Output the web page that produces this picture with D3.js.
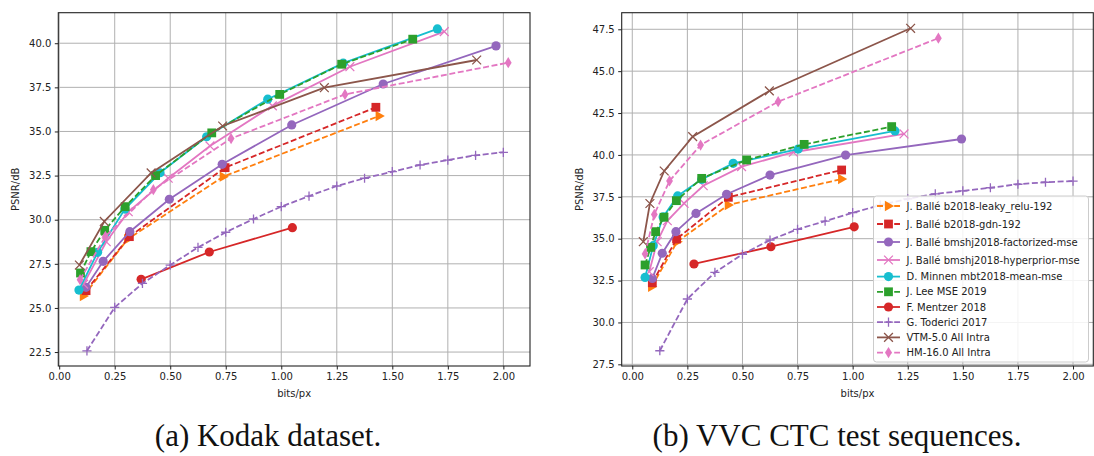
<!DOCTYPE html>
<html>
<head>
<meta charset="utf-8">
<script src="https://cdn.jsdelivr.net/npm/d3@7"></script>
<style>
  body { margin: 0; background: #fff; }
  svg text { font-family: "DejaVu Sans", sans-serif; }
</style>
</head>
<body>
<svg id="fig" width="1094" height="456"></svg>
<script>
// ---- Series names (legend order) ----
const seriesLabels = [
  "J. Ballé b2018-leaky_relu-192",
  "J. Ballé b2018-gdn-192",
  "J. Ballé bmshj2018-factorized-mse",
  "J. Ballé bmshj2018-hyperprior-mse",
  "D. Minnen mbt2018-mean-mse",
  "J. Lee MSE 2019",
  "F. Mentzer 2018",
  "G. Toderici 2017",
  "VTM-5.0 All Intra",
  "HM-16.0 All Intra"
];

// ---- Kodak dataset: [bits/px, PSNR dB] ----
const kodakLeakyRelu = [[0.109, 25.67], [0.308, 28.89], [0.739, 32.44], [1.441, 35.88]];
const kodakGdn = [[0.121, 25.98], [0.316, 29.04], [0.747, 32.95], [1.426, 36.37]];
const kodakFactorized = [[0.121, 26.17], [0.198, 27.64], [0.318, 29.32], [0.496, 31.16], [0.734, 33.14], [1.047, 35.37], [1.459, 37.69], [1.967, 39.85]];
const kodakHyperprior = [[0.11, 26.35], [0.212, 28.75], [0.311, 30.45], [0.491, 32.35], [0.679, 34.18], [0.96, 36.45], [1.309, 38.67], [1.734, 40.66]];
const kodakMinnen = [[0.089, 26.01], [0.173, 28.15], [0.296, 30.6], [0.454, 32.66], [0.664, 34.7], [0.939, 36.83], [1.279, 38.87], [1.703, 40.81]];
const kodakLee = [[0.096, 26.98], [0.143, 28.19], [0.205, 29.4], [0.297, 30.74], [0.434, 32.5], [0.687, 34.92], [0.993, 37.1], [1.272, 38.81], [1.592, 40.23]];
const kodakMentzer = [[0.369, 26.62], [0.676, 28.17], [1.05, 29.55]];
const kodakToderici = [[0.125, 22.57], [0.25, 25.03], [0.375, 26.39], [0.5, 27.43], [0.625, 28.43], [0.75, 29.29], [0.875, 30.04], [1.0, 30.74], [1.125, 31.34], [1.25, 31.91], [1.375, 32.35], [1.5, 32.72], [1.625, 33.1], [1.75, 33.38], [1.875, 33.65], [2.0, 33.82]];
const kodakVtm = [[0.091, 27.43], [0.203, 29.9], [0.414, 32.65], [0.736, 35.31], [1.194, 37.48], [1.88, 39.05]];
const kodakHm = [[0.094, 26.6], [0.208, 29.05], [0.424, 31.7], [0.774, 34.6], [1.287, 37.1], [2.022, 38.9]];

// ---- VVC CTC test sequences: [bits/px, PSNR dB] ----
const vvcLeakyRelu = [[0.088, 32.13], [0.204, 34.82], [0.436, 37.01], [0.95, 38.56]];
const vvcGdn = [[0.091, 32.37], [0.201, 34.98], [0.436, 37.47], [0.95, 39.1]];
const vvcFactorized = [[0.091, 32.63], [0.136, 34.13], [0.198, 35.42], [0.289, 36.51], [0.428, 37.65], [0.625, 38.8], [0.968, 39.99], [1.494, 40.95]];
const vvcHyperprior = [[0.077, 33.03], [0.113, 34.82], [0.159, 36.07], [0.235, 37.11], [0.322, 38.16], [0.496, 39.3], [0.731, 40.16], [1.233, 41.25]];
const vvcMinnen = [[0.058, 32.69], [0.095, 34.58], [0.14, 36.3], [0.206, 37.55], [0.315, 38.54], [0.458, 39.5], [0.753, 40.35], [1.192, 41.43]];
const vvcLee = [[0.058, 33.43], [0.083, 34.48], [0.106, 35.42], [0.144, 36.28], [0.2, 37.27], [0.315, 38.6], [0.519, 39.7], [0.78, 40.63], [1.177, 41.69]];
const vvcMentzer = [[0.28, 33.49], [0.629, 34.52], [1.007, 35.71]];
const vvcToderici = [[0.125, 28.31], [0.25, 31.4], [0.375, 32.99], [0.5, 34.07], [0.625, 34.92], [0.75, 35.56], [0.875, 36.05], [1.0, 36.55], [1.125, 37.0], [1.25, 37.38], [1.375, 37.68], [1.5, 37.85], [1.625, 38.04], [1.75, 38.25], [1.875, 38.37], [2.0, 38.44]];
const vvcVtm = [[0.05, 34.82], [0.08, 37.1], [0.145, 39.04], [0.274, 41.09], [0.622, 43.82], [1.263, 47.56]];
const vvcHm = [[0.058, 34.09], [0.1, 36.45], [0.169, 38.45], [0.31, 40.59], [0.662, 43.18], [1.389, 46.97]];

// ---- Axis ticks ----
const xTicks = [0.0, 0.25, 0.5, 0.75, 1.0, 1.25, 1.5, 1.75, 2.0];
const kodakYTicks = [22.5, 25.0, 27.5, 30.0, 32.5, 35.0, 37.5, 40.0];
const vvcYTicks = [27.5, 30.0, 32.5, 35.0, 37.5, 40.0, 42.5, 45.0, 47.5];

const kodakSeries = [kodakLeakyRelu, kodakGdn, kodakFactorized, kodakHyperprior, kodakMinnen, kodakLee, kodakMentzer, kodakToderici, kodakVtm, kodakHm];
const vvcSeries = [vvcLeakyRelu, vvcGdn, vvcFactorized, vvcHyperprior, vvcMinnen, vvcLee, vvcMentzer, vvcToderici, vvcVtm, vvcHm];

// ---- Line / marker styles (same order as the names) ----
const styles = [
  { color: "#ff7f0e", dashed: true,  marker: "triangleRight" },
  { color: "#d62728", dashed: true,  marker: "square" },
  { color: "#9467bd", dashed: false, marker: "circle" },
  { color: "#e377c2", dashed: false, marker: "x" },
  { color: "#17becf", dashed: false, marker: "circle" },
  { color: "#2ca02c", dashed: true,  marker: "square" },
  { color: "#d62728", dashed: false, marker: "circle" },
  { color: "#9467bd", dashed: true,  marker: "plus" },
  { color: "#8c564b", dashed: false, marker: "x" },
  { color: "#e377c2", dashed: true,  marker: "thinDiamond" }
];

const LINE_W = 1.8;
const DASH = "6,2.6";

function drawMarker(g, type, cx, cy, color) {
  switch (type) {
    case "circle":
      g.append("circle").attr("cx", cx).attr("cy", cy).attr("r", 4.6).attr("fill", color);
      break;
    case "square":
      g.append("rect").attr("x", cx - 4.4).attr("y", cy - 4.4).attr("width", 8.8).attr("height", 8.8).attr("fill", color);
      break;
    case "triangleRight":
      g.append("path").attr("d", `M${cx + 5.6},${cy} L${cx - 3.6},${cy - 5.2} L${cx - 3.6},${cy + 5.2} Z`).attr("fill", color);
      break;
    case "thinDiamond":
      g.append("path").attr("d", `M${cx},${cy - 5.6} L${cx + 3.4},${cy} L${cx},${cy + 5.6} L${cx - 3.4},${cy} Z`).attr("fill", color);
      break;
    case "x":
      g.append("path").attr("d", `M${cx - 4.4},${cy - 4.4} L${cx + 4.4},${cy + 4.4} M${cx - 4.4},${cy + 4.4} L${cx + 4.4},${cy - 4.4}`)
        .attr("stroke", color).attr("stroke-width", 1.3).attr("fill", "none");
      break;
    case "plus":
      g.append("path").attr("d", `M${cx - 4.6},${cy} L${cx + 4.6},${cy} M${cx},${cy - 4.6} L${cx},${cy + 4.6}`)
        .attr("stroke", color).attr("stroke-width", 1.3).attr("fill", "none");
      break;
  }
}

const svg = d3.select("#fig");

function drawPanel(cfg) {
  const x = d3.scaleLinear().domain(cfg.xDomain).range([cfg.left, cfg.right]);
  const y = d3.scaleLinear().domain(cfg.yDomain).range([cfg.bottom, cfg.top]);
  const g = svg.append("g");

  // grid
  const grid = g.append("g").attr("stroke", "#b0b0b0").attr("stroke-width", 1);
  xTicks.forEach(t => grid.append("line").attr("x1", x(t)).attr("x2", x(t)).attr("y1", cfg.top).attr("y2", cfg.bottom));
  cfg.yTicks.forEach(t => grid.append("line").attr("x1", cfg.left).attr("x2", cfg.right).attr("y1", y(t)).attr("y2", y(t)));

  // clipped data area
  const clipId = "clip-" + cfg.id;
  svg.append("clipPath").attr("id", clipId).append("rect")
    .attr("x", cfg.left).attr("y", cfg.top).attr("width", cfg.right - cfg.left).attr("height", cfg.bottom - cfg.top);
  const plot = g.append("g").attr("clip-path", `url(#${clipId})`);

  const line = d3.line().x(d => x(d[0])).y(d => y(d[1]));
  cfg.series.forEach((data, i) => {
    const st = styles[i];
    const sg = plot.append("g");
    sg.append("path").datum(data).attr("d", line).attr("fill", "none")
      .attr("stroke", st.color).attr("stroke-width", LINE_W)
      .attr("stroke-dasharray", st.dashed ? DASH : null);
    data.forEach(d => drawMarker(sg, st.marker, x(d[0]), y(d[1]), st.color));
  });

  // axes
  const xAxis = d3.axisBottom(x).tickValues(xTicks).tickFormat(d3.format(".2f")).tickSizeOuter(0).tickSize(3.5).tickPadding(3.5);
  const yAxis = d3.axisLeft(y).tickValues(cfg.yTicks).tickFormat(d3.format(".1f")).tickSizeOuter(0).tickSize(3.5).tickPadding(3.5);
  const gx = g.append("g").attr("transform", `translate(0,${cfg.bottom})`).call(xAxis);
  const gy = g.append("g").attr("transform", `translate(${cfg.left},0)`).call(yAxis);
  [gx, gy].forEach(a => {
    a.select(".domain").remove();
    a.selectAll("text").attr("font-size", 10).attr("fill", "#222").style("font-family", "DejaVu Sans");
    a.selectAll("line").attr("stroke", "#222").attr("stroke-width", 1);
  });

  // frame
  g.append("rect").attr("x", cfg.left).attr("y", cfg.top)
    .attr("width", cfg.right - cfg.left).attr("height", cfg.bottom - cfg.top)
    .attr("fill", "none").attr("stroke", "#222").attr("stroke-width", 1.1);

  // axis labels
  g.append("text").attr("x", (cfg.left + cfg.right) / 2).attr("y", 397)
    .attr("text-anchor", "middle").attr("font-size", 10).attr("fill", "#222").text("bits/px");
  g.append("text").attr("transform", `translate(${cfg.left - 39},${(cfg.top + cfg.bottom) / 2}) rotate(-90)`)
    .attr("text-anchor", "middle").attr("font-size", 10).attr("fill", "#222").text("PSNR/dB");

  // caption
  svg.append("text").attr("x", cfg.captionX).attr("y", 446).attr("text-anchor", "middle")
    .style("font-family", "'Liberation Serif', 'Times New Roman', serif").attr("font-size", 31)
    .attr("fill", "#111").text(cfg.caption);

  return { x, y, g };
}

drawPanel({
  id: "kodak", left: 58.3, right: 530, top: 12.7, bottom: 366,
  xDomain: [-0.004, 2.12], yDomain: [21.71, 41.73], yTicks: kodakYTicks,
  series: kodakSeries, caption: "(a) Kodak dataset.", captionX: 268
});

drawPanel({
  id: "vvc", left: 621.7, right: 1093.3, top: 12.7, bottom: 366,
  xDomain: [-0.048, 2.092], yDomain: [27.4, 48.49], yTicks: vvcYTicks,
  series: vvcSeries, caption: "(b) VVC CTC test sequences.", captionX: 837
});

// ---- Legend (right panel) ----
const legend = svg.append("g");
legend.append("rect").attr("x", 873.5).attr("y", 196).attr("width", 215).attr("height", 166)
  .attr("rx", 3).attr("fill", "#fff").attr("fill-opacity", 0.85)
  .attr("stroke", "#cccccc").attr("stroke-width", 1);
// rows holding an accented name are a little taller
const rowHeight = name => (/[éÉ]/.test(name) ? 18 : 15.2);
let cy = 206;
seriesLabels.forEach((name, i) => {
  const st = styles[i];
  const row = legend.append("g");
  row.append("line").attr("x1", 877).attr("x2", 900).attr("y1", cy).attr("y2", cy)
    .attr("stroke", st.color).attr("stroke-width", LINE_W)
    .attr("stroke-dasharray", st.dashed ? DASH : null);
  drawMarker(row, st.marker, 888.5, cy, st.color);
  row.append("text").attr("x", 906.5).attr("y", cy + 3.6).attr("font-size", 10).attr("fill", "#222").text(name);
  if (i + 1 < seriesLabels.length) cy += (rowHeight(name) + rowHeight(seriesLabels[i + 1])) / 2;
});
</script>
</body>
</html>
